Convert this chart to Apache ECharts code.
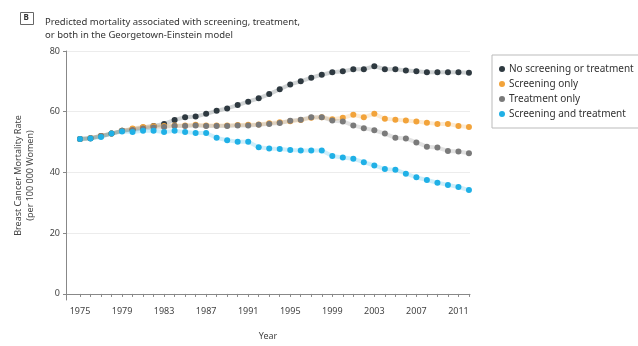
<!DOCTYPE html>
<html>
<head>
<meta charset="utf-8">
<script src="https://cdn.jsdelivr.net/npm/echarts@6/dist/echarts.min.js"></script>
<style>
  html, body { margin: 0; padding: 0; background: #fff; }
  #chart { width: 638px; height: 346px; }
</style>
</head>
<body>
<div id="chart"></div>
<script>
// years 1975 - 2012
var years = [];
for (var y = 1975; y <= 2012; y++) years.push(y);

var xTickLabels = [1975, 1979, 1983, 1987, 1991, 1995, 1999, 2003, 2007, 2011];
var yTickLabels = [0, 20, 40, 60, 80];

var noScreeningOrTreatment = [
  51, 51.3, 52, 52.8, 53.7, 54.2, 54.8, 55.3, 56,
  57.3, 58.2, 58.4, 59.3, 60.3, 61.1, 62.2, 63.3, 64.4, 65.8,
  67.4, 69, 70, 71.2, 72.2, 73, 73.3, 74, 74, 75,
  74, 74, 73.6, 73.3, 73, 73, 73, 73, 72.8
];
var screeningOnly = [
  51, 51.3, 52, 52.8, 53.7, 54.5, 55, 55.2, 55.3,
  55.5, 55.5, 55.7, 55.5, 55.5, 55.5, 55.6, 55.7, 55.8, 56.2,
  56.5, 56.9, 57.3, 58, 58.2, 57.5, 58, 59, 58.2, 59.3,
  57.7, 57.4, 57.1, 56.8, 56.4, 56, 56, 55.3, 55
];
var treatmentOnly = [
  51, 51.3, 52, 52.8, 53.7, 54, 54.5, 54.8, 55,
  55.3, 55.3, 55.5, 55.3, 55.3, 55.3, 55.5, 55.5, 55.7, 56,
  56.3, 57, 57.4, 58.2, 58.2, 57.1, 56.8, 55.5, 54.6, 53.9,
  52.8, 51.4, 51.2, 49.9, 48.5, 48.2, 47.1, 46.9, 46.3
];
var screeningAndTreatment = [
  51, 51.2, 51.7, 52.8, 53.5, 53.3, 53.7, 53.7, 53.3,
  53.7, 53.3, 53, 53, 51.4, 50.6, 50.1, 50.1, 48.3, 47.9,
  47.7, 47.4, 47.2, 47.2, 47.2, 45.4, 44.9, 44.5, 43.4, 42.3,
  41.1, 40.9, 39.6, 38.4, 37.5, 36.6, 35.9, 35.2, 34.2
];

var font = 'Noto Sans';
var txt = '#444';

function pairs(vals) {
  return vals.map(function (v, i) { return [years[i], v]; });
}

function mkSeries(name, color, vals, extra) {
  var s = {
    name: name,
    type: 'line',
    data: pairs(vals),
    symbol: 'circle',
    symbolSize: 6,
    showSymbol: true,
    itemStyle: { color: color },
    lineStyle: { color: color, width: 4, opacity: 0.22 },
    emphasis: { disabled: true },
    animation: false
  };
  if (extra) for (var k in extra) s[k] = extra[k];
  return s;
}

var chart = echarts.init(document.getElementById('chart'));
chart.setOption({
  backgroundColor: '#fff',
  animation: false,
  title: {
    text: 'Predicted mortality associated with screening, treatment,\nor both in the Georgetown-Einstein model',
    left: 40,
    top: 11,
    textStyle: { fontFamily: font, fontSize: 9.5, fontWeight: 'normal', color: '#333', lineHeight: 13 }
  },
  graphic: [
    { type: 'rect', left: 20, top: 12, shape: { width: 13, height: 12 },
      style: { fill: '#fff', stroke: '#666', lineWidth: 1 } },
    { type: 'text', left: 23.5, top: 13.5,
      style: { text: 'B', fill: '#333', font: 'bold 8px Noto Sans' } }
  ],
  legend: {
    orient: 'vertical',
    left: 492,
    top: 55,
    padding: [9, 10, 9, 7],
    itemGap: 5,
    itemWidth: 6,
    itemHeight: 6,
    icon: 'circle',
    borderColor: '#bbb',
    borderWidth: 1,
    textStyle: { fontFamily: font, fontSize: 10, color: '#333', padding: [0, 0, 0, -1] },
    data: ['No screening or treatment', 'Screening only', 'Treatment only', 'Screening and treatment']
  },
  grid: { left: 66, right: 168, top: 51, bottom: 41, containLabel: false },
  xAxis: {
    type: 'value',
    min: 1973.67,
    max: 2012.1,
    name: 'Year',
    nameLocation: 'middle',
    nameGap: 32,
    nameTextStyle: { fontFamily: font, fontSize: 9, color: txt },
    axisLine: { show: true, lineStyle: { color: '#888' } },
    axisTick: { show: true, customValues: years, length: 3, lineStyle: { color: '#888' } },
    axisLabel: {
      customValues: xTickLabels,
      fontFamily: font, fontSize: 9, color: txt, margin: 7,
      formatter: function (v) { return String(v); }
    },
    splitLine: { show: false }
  },
  yAxis: {
    type: 'value',
    min: -2,
    max: 80,
    name: 'Breast Cancer Mortality Rate\n(per 100 000 Women)',
    nameLocation: 'middle',
    nameRotate: 90,
    nameGap: 30,
    nameTextStyle: { fontFamily: font, fontSize: 9, color: txt, lineHeight: 12 },
    axisLine: { show: true, lineStyle: { color: '#888' } },
    axisTick: { show: true, customValues: yTickLabels, length: 3, lineStyle: { color: '#888' } },
    axisLabel: { customValues: yTickLabels, fontFamily: font, fontSize: 9, color: txt, margin: 6 },
    splitLine: { show: false }
  },
  series: [
    mkSeries('No screening or treatment', '#2e3940', noScreeningOrTreatment, {
      markLine: {
        silent: true,
        symbol: 'none',
        label: { show: false },
        lineStyle: { color: '#ececec', type: 'solid', width: 1 },
        data: yTickLabels.filter(function (v) { return v > 0; }).map(function (v) { return { yAxis: v }; }),
        z: 0
      }
    }),
    mkSeries('Screening only', '#f2a33a', screeningOnly),
    mkSeries('Treatment only', '#7a7a7a', treatmentOnly),
    mkSeries('Screening and treatment', '#1fb0e6', screeningAndTreatment)
  ]
});
</script>
</body>
</html>
